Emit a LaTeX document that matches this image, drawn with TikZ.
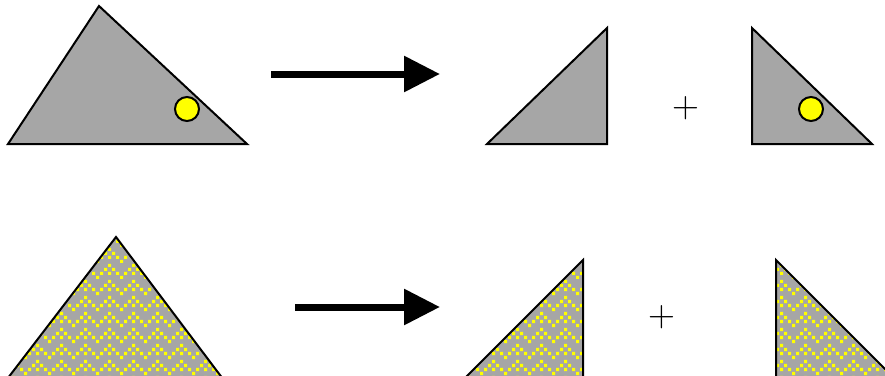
\documentclass[tikz,border=0pt]{standalone}
\usetikzlibrary{arrows.meta,patterns}

\definecolor{tgray}{RGB}{166,166,166}
\definecolor{tyellow}{RGB}{255,255,0}

% stair-stepped dot chevrons used to fill the lower triangles
\pgfdeclarepatternformonly{zigdots}{\pgfpoint{-0.1pt}{-0.1pt}}{\pgfpoint{18.1pt}{12.1pt}}{\pgfpoint{18pt}{12pt}}{%
  \foreach \px/\py in {0/0,3/3,6/6,9/9,12/6,15/3,9/3}{%
    \pgfpathrectangle{\pgfpoint{\px pt}{\py pt}}{\pgfpoint{2.4pt}{2.4pt}}}%
  \pgfusepath{fill}}

\tikzset{
  piece/.style={draw=black, line width=1.5pt, line join=miter, fill=tgray},
  mazepiece/.style={draw=black, line width=1.5pt, line join=miter,
    preaction={fill=tgray}, pattern=zigdots, pattern color=tyellow},
  ball/.style={draw=black, line width=1.5pt, fill=tyellow},
  bigarrow/.style={line width=5.25pt, -{Triangle[length=27pt,width=26pt]}},
  plus/.style={font=\fontsize{28}{32}\selectfont, inner sep=0pt}
}

\begin{document}
\begin{tikzpicture}[x=0.75pt, y=-0.75pt]
    \useasboundingbox (0,0) rectangle (885,375);
    \clip (0,0) rectangle (885,375);

    % Top row: whole triangle with ball
    \draw[piece] (8,144) -- (99,6) -- (247,144) -- cycle;
    \draw[ball] (187,109) circle (12);

    \coordinate (tstart) at (271,74);
    \coordinate (tend) at (440,74);
    \draw[bigarrow] (tstart) -- (tend);

    % Top row: the two halves
    \draw[piece] (487,144) -- (607,28) -- (607,144) -- cycle;
    \node[plus] (tplus) at (686,108) {+};
    \draw[piece] (752,28) -- (752,144) -- (872,144) -- cycle;
    \draw[ball] (811,109) circle (12);

    % Bottom row: patterned triangle
    \draw[mazepiece] (-2,391) -- (116,237) -- (232,391) -- cycle;

    \coordinate (bstart) at (295,307);
    \coordinate (bend) at (440,307);
    \draw[bigarrow] (bstart) -- (bend);

    % Bottom row: the two halves
    \draw[mazepiece] (452,391) -- (583,260) -- (583,391) -- cycle;
    \node[plus] (bplus) at (662,317) {+};
    \draw[mazepiece] (776,260) -- (776,391) -- (907,391) -- cycle;
\end{tikzpicture}
\end{document}
